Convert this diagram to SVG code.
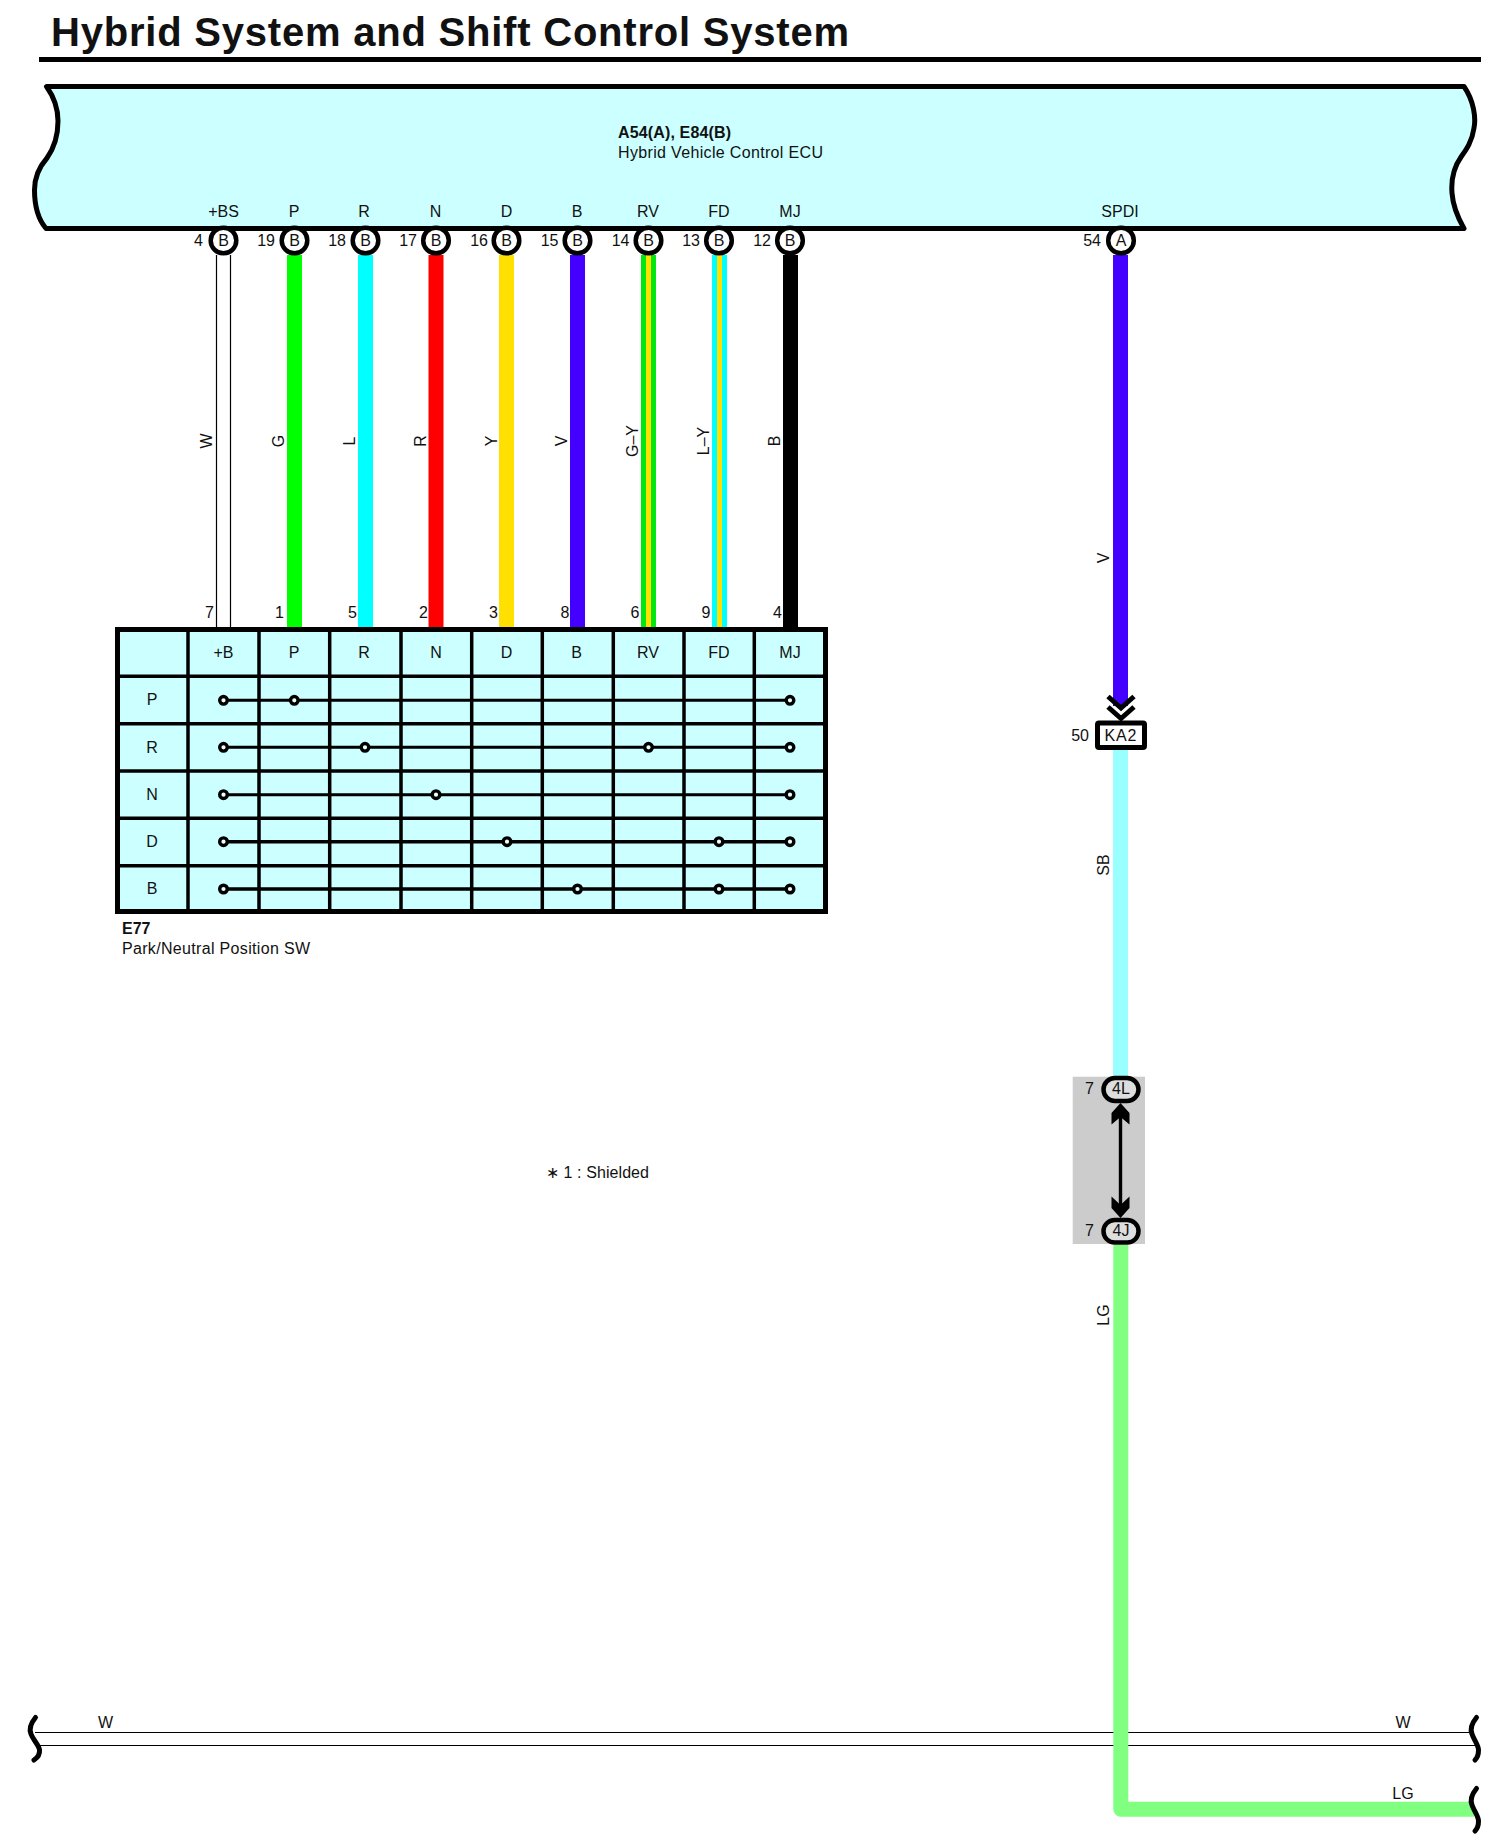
<svg xmlns="http://www.w3.org/2000/svg" width="1506" height="1848" viewBox="0 0 1506 1848">
<style>
text{font-family:"Liberation Sans",Arial,sans-serif;font-size:16px;fill:#111}
.m{text-anchor:middle}
.e{text-anchor:end}
.b{font-weight:bold}
.k{fill:none;stroke:#000;stroke-width:5}
.pin{fill:#fff;stroke:#000;stroke-width:4.5}
.wr{fill:none;stroke-width:15}
.thin{fill:none;stroke:#000;stroke-width:1.2}
.g{stroke:#000;stroke-width:3.5;fill:none}
.r{stroke:#000;stroke-width:3;fill:none}
.dot{fill:#e8ffff;stroke:#000;stroke-width:3.4}
.brk{fill:none;stroke:#000;stroke-width:5;stroke-linecap:round}
.ov{fill:#dedede;stroke:#000;stroke-width:4.5}
</style>
<rect width="1506" height="1848" fill="#fff"/>
<g id="title">
<text x="51" y="46" class="b" style="font-size:40px" textLength="798">Hybrid System and Shift Control System</text>
<rect x="39" y="57" width="1442" height="5" fill="#000"/>
</g>
<g id="connectors">
<path class="thin" d="M216.5 255V627M230.5 255V627"/>
<path class="wr" stroke="#00ff00" d="M294.5 255V627"/>
<path class="wr" stroke="#00ffff" d="M365.5 255V627"/>
<path class="wr" stroke="#ff0000" d="M436 255V627"/>
<path class="wr" stroke="#ffe000" d="M506.5 255V627"/>
<path class="wr" stroke="#4400ff" d="M577.5 255V627"/>
<path class="wr" stroke="#00e810" d="M648.5 255V627"/>
<path stroke="#ffe000" stroke-width="5" d="M648.5 255V627"/>
<path class="wr" stroke="#00ffff" d="M719.5 255V627"/>
<path stroke="#ffe000" stroke-width="5" d="M719.5 255V627"/>
<path class="wr" stroke="#000" d="M790.5 255V627"/>
<path class="wr" stroke="#4400ff" d="M1120.5 255V706"/>
<path class="wr" stroke="#99ffff" d="M1120.5 750V1076"/>
<path class="thin" d="M35 1732.5H1470M40 1745.5H1475"/>
<path class="wr" stroke="#80ff80" stroke-linejoin="round" d="M1120.8 1245V1809.3H1474"/>
<text transform="translate(212 441) rotate(-90)" class="m">W</text>
<text transform="translate(283.5 441) rotate(-90)" class="m">G</text>
<text transform="translate(354.5 441) rotate(-90)" class="m">L</text>
<text transform="translate(425.5 441) rotate(-90)" class="m">R</text>
<text transform="translate(496.5 441) rotate(-90)" class="m">Y</text>
<text transform="translate(567 441) rotate(-90)" class="m">V</text>
<text transform="translate(638 441) rotate(-90)" class="m">G–Y</text>
<text transform="translate(709 441) rotate(-90)" class="m">L–Y</text>
<text transform="translate(780 441) rotate(-90)" class="m">B</text>
<text transform="translate(1109 558) rotate(-90)" class="m">V</text>
<text transform="translate(1109 865) rotate(-90)" class="m">SB</text>
<text transform="translate(1109 1315) rotate(-90)" class="m">LG</text>
<text x="105.5" y="1728" class="m">W</text>
<text x="1403" y="1728" class="m">W</text>
<text x="1403" y="1799" class="m">LG</text>
</g>
<g id="ecu">
<path fill="#ccffff" stroke="#000" stroke-width="5" stroke-linejoin="round" d="M46.5 86.5H1464C1474 101 1476 118 1474 128C1472 142 1466 150 1461 157C1454 167 1451 180 1452 193C1453 207 1458 218 1464 228.5H46C38 219 34.5 205 34.5 190C34.5 176 40 166 47 158C54 148 58 135 58 121C58 108 54 97 46.5 86.5Z"/>
<text x="618" y="138" class="b" textLength="113">A54(A), E84(B)</text>
<text x="618" y="158" textLength="205">Hybrid Vehicle Control ECU</text>
<g class="m">
<text x="223.5" y="217" class="m">+BS</text>
<text x="294" y="217" class="m">P</text>
<text x="364" y="217" class="m">R</text>
<text x="435.5" y="217" class="m">N</text>
<text x="506.5" y="217" class="m">D</text>
<text x="577" y="217" class="m">B</text>
<text x="648" y="217" class="m">RV</text>
<text x="719" y="217" class="m">FD</text>
<text x="790" y="217" class="m">MJ</text>
<text x="1120" y="217" class="m">SPDI</text>
</g>
</g>
<g id="pins">
<circle class="pin" cx="223.5" cy="240.5" r="12.8"/><text x="223.5" y="246" class="m">B</text><text x="203" y="246" class="e">4</text>
<circle class="pin" cx="294.5" cy="240.5" r="12.8"/><text x="294.5" y="246" class="m">B</text><text x="275" y="246" class="e">19</text>
<circle class="pin" cx="365.5" cy="240.5" r="12.8"/><text x="365.5" y="246" class="m">B</text><text x="346" y="246" class="e">18</text>
<circle class="pin" cx="436" cy="240.5" r="12.8"/><text x="436" y="246" class="m">B</text><text x="417" y="246" class="e">17</text>
<circle class="pin" cx="506.5" cy="240.5" r="12.8"/><text x="506.5" y="246" class="m">B</text><text x="488" y="246" class="e">16</text>
<circle class="pin" cx="577.5" cy="240.5" r="12.8"/><text x="577.5" y="246" class="m">B</text><text x="558.5" y="246" class="e">15</text>
<circle class="pin" cx="648.5" cy="240.5" r="12.8"/><text x="648.5" y="246" class="m">B</text><text x="629.5" y="246" class="e">14</text>
<circle class="pin" cx="719" cy="240.5" r="12.8"/><text x="719" y="246" class="m">B</text><text x="700" y="246" class="e">13</text>
<circle class="pin" cx="790" cy="240.5" r="12.8"/><text x="790" y="246" class="m">B</text><text x="771" y="246" class="e">12</text>
<circle class="pin" cx="1121" cy="240.5" r="12.8"/><text x="1121" y="246" class="m">A</text><text x="1101" y="246" class="e">54</text>
</g>
<g id="e77">
<rect x="117.5" y="629.5" width="708" height="282" fill="#ccffff" stroke="#000" stroke-width="5"/>
<path class="g" d="M188 630V912M259 630V912M329.7 630V912M401 630V912M471.7 630V912M542.3 630V912M613.3 630V912M684 630V912M754.3 630V912"/>
<path class="g" d="M118 676.3H825M118 723.7H825M118 771H825M118 818.3H825M118 865.7H825"/>
<path class="r" d="M223.5 700.3H790M223.5 747.3H790M223.5 794.7H790"/>
<path class="g" d="M223.5 841.7H790M223.5 889H790"/>
<g id="e77-dots">
<circle class="dot" cx="223.5" cy="700.3" r="3.8"/><circle class="dot" cx="294.3" cy="700.3" r="3.8"/><circle class="dot" cx="790" cy="700.3" r="3.8"/>
<circle class="dot" cx="223.5" cy="747.3" r="3.8"/><circle class="dot" cx="365" cy="747.3" r="3.8"/><circle class="dot" cx="648.5" cy="747.3" r="3.8"/><circle class="dot" cx="790" cy="747.3" r="3.8"/>
<circle class="dot" cx="223.5" cy="794.7" r="3.8"/><circle class="dot" cx="436" cy="794.7" r="3.8"/><circle class="dot" cx="790" cy="794.7" r="3.8"/>
<circle class="dot" cx="223.5" cy="841.7" r="3.8"/><circle class="dot" cx="507" cy="841.7" r="3.8"/><circle class="dot" cx="719" cy="841.7" r="3.8"/><circle class="dot" cx="790" cy="841.7" r="3.8"/>
<circle class="dot" cx="223.5" cy="889" r="3.8"/><circle class="dot" cx="577.5" cy="889" r="3.8"/><circle class="dot" cx="719" cy="889" r="3.8"/><circle class="dot" cx="790" cy="889" r="3.8"/>
</g>
<text x="223.5" y="658" class="m">+B</text><text x="294" y="658" class="m">P</text><text x="364" y="658" class="m">R</text><text x="436" y="658" class="m">N</text><text x="506.5" y="658" class="m">D</text><text x="576.5" y="658" class="m">B</text><text x="648" y="658" class="m">RV</text><text x="719" y="658" class="m">FD</text><text x="790" y="658" class="m">MJ</text>
<text x="152" y="705" class="m">P</text><text x="152" y="752.5" class="m">R</text><text x="152" y="800" class="m">N</text><text x="152" y="846.5" class="m">D</text><text x="152" y="894" class="m">B</text>
<text x="214" y="618" class="e">7</text><text x="284" y="618" class="e">1</text><text x="357" y="618" class="e">5</text><text x="428" y="618" class="e">2</text><text x="498" y="618" class="e">3</text><text x="569.5" y="618" class="e">8</text><text x="639.5" y="618" class="e">6</text><text x="710.5" y="618" class="e">9</text><text x="782" y="618" class="e">4</text>
<text x="122" y="933.5" class="b">E77</text>
<text x="122" y="953.5" textLength="188">Park/Neutral Position SW</text>
</g>
<g id="ka2">
<path class="k" d="M1108 696.5L1121 708L1134 696.5M1108 707L1121 718.5L1134 707"/>
<rect x="1097.5" y="723" width="47" height="24.5" rx="1.5" fill="#fff" stroke="#000" stroke-width="5"/>
<text x="1120.5" y="741" class="m" textLength="32">KA2</text>
<text x="1089" y="741" class="e">50</text>
</g>
<g id="splice">
<rect x="1072.7" y="1076.7" width="72.3" height="167.3" fill="#cccccc"/>
<path stroke="#000" stroke-width="3.4" d="M1120.5 1110V1210"/>
<path fill="#000" d="M1120.5 1103L1129.5 1113V1124.5L1120.5 1117L1111.5 1124.5V1113Z"/>
<path fill="#000" d="M1120.5 1218L1129.5 1208V1196.5L1120.5 1205L1111.5 1196.5V1208Z"/>
<rect class="ov" x="1103.5" y="1078" width="35" height="23" rx="11.5"/>
<text x="1121" y="1094" class="m">4L</text><text x="1094" y="1094" class="e">7</text>
<rect class="ov" x="1103.5" y="1220" width="35" height="22.5" rx="11.2"/>
<text x="1121" y="1236" class="m">4J</text><text x="1094" y="1236" class="e">7</text>
</g>
<g id="note"><text x="546" y="1177.5" textLength="103">∗ 1 : Shielded</text></g>
<g id="breaks">
<path class="brk" d="M35.5 1717.5C31 1723 29 1729 31 1734C33 1740 39 1745 39.5 1750C40 1755 37 1758 34 1760"/>
<path class="brk" d="M1476.5 1717.5C1472 1723 1470 1729 1472 1734C1474 1740 1478.5 1745 1478.5 1750C1478.5 1755 1477 1758 1475 1760"/>
<path class="brk" d="M1476.5 1788.5C1472 1794 1470 1800 1472 1805C1474 1811 1478.5 1816 1478.5 1821C1478.5 1826 1477 1829 1475 1831"/>
</g>
</svg>
